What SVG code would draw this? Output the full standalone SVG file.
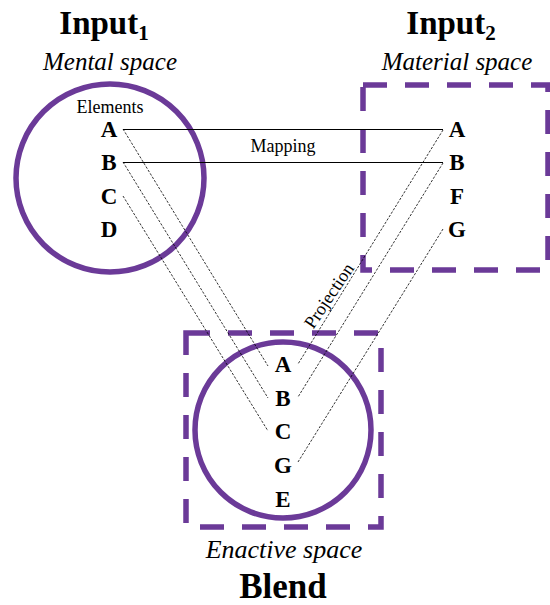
<svg xmlns="http://www.w3.org/2000/svg" width="550" height="605" viewBox="0 0 550 605">
<style>
.sp{fill:none;stroke:#6b3a98;stroke-width:5.5}
.dash{stroke-dasharray:24 18}
.title{font-family:"Liberation Serif",serif;font-weight:bold;font-size:33px;fill:#000;text-anchor:middle}
.sub{font-size:21px}
.ital{font-family:"Liberation Serif",serif;font-style:italic;font-size:25px;fill:#000;text-anchor:middle}
.let{font-family:"Liberation Serif",serif;font-weight:bold;font-size:23px;fill:#000;text-anchor:middle}
.lbl{font-family:"Liberation Serif",serif;font-size:18px;fill:#000;text-anchor:middle}
.map{stroke:#000;stroke-width:1;fill:none}
.proj{stroke:#000;stroke-width:0.8;stroke-dasharray:2.5 1.5;fill:none}
</style>
<rect width="550" height="605" fill="#fff"/>
<g id="input1">
<text class="title" x="104" y="34">Input<tspan class="sub" dy="6">1</tspan></text>
<text class="ital" x="110" y="70">Mental space</text>
<circle class="sp" cx="110" cy="178" r="94"/>
<text class="lbl" x="110" y="113">Elements</text>
<text class="let" x="109" y="137">A</text>
<text class="let" x="109" y="170">B</text>
<text class="let" x="109" y="204">C</text>
<text class="let" x="109" y="237">D</text>
</g>
<g id="input2">
<text class="title" x="451" y="34">Input<tspan class="sub" dy="6">2</tspan></text>
<text class="ital" x="457" y="70">Material space</text>
<rect class="sp dash" x="363" y="85" width="185" height="185"/>
<text class="let" x="457" y="137">A</text>
<text class="let" x="457" y="170">B</text>
<text class="let" x="457" y="204">F</text>
<text class="let" x="457" y="237">G</text>
</g>
<g id="blend">
<rect class="sp dash" x="186" y="333" width="195" height="194"/>
<circle class="sp" cx="283" cy="430" r="88"/>
<text class="let" x="283" y="372">A</text>
<text class="let" x="283" y="406">B</text>
<text class="let" x="283" y="439">C</text>
<text class="let" x="283" y="473">G</text>
<text class="let" x="283" y="507">E</text>
<text class="ital" x="284" y="558" style="font-size:26px">Enactive space</text>
<text class="title" x="283" y="598" style="font-size:35px">Blend</text>
</g>
<g id="connectors">
<line class="map" x1="123" y1="129.5" x2="443" y2="129.5"/>
<line class="map" x1="123" y1="162.5" x2="443" y2="162.5"/>
<text class="lbl" x="283" y="152">Mapping</text>
<line class="proj" x1="123" y1="129" x2="268" y2="366"/>
<line class="proj" x1="123" y1="162" x2="268" y2="398"/>
<line class="proj" x1="123" y1="196" x2="268" y2="431"/>
<line class="proj" x1="443" y1="130" x2="298" y2="364"/>
<line class="proj" x1="443" y1="163" x2="298" y2="397"/>
<line class="proj" x1="443" y1="229" x2="298" y2="462"/>
<text class="lbl" x="334" y="299" transform="rotate(-56 334 299)">Projection</text>
</g>
</svg>
